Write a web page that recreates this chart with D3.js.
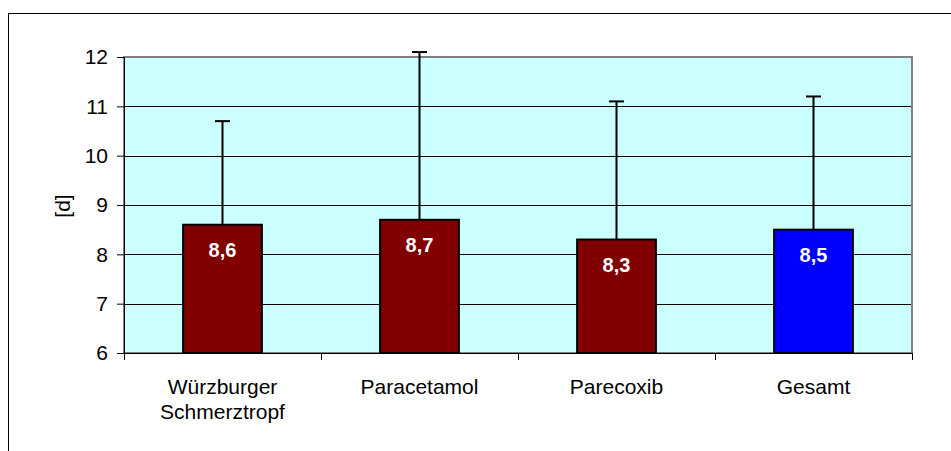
<!DOCTYPE html>
<html><head><meta charset="utf-8">
<script src="https://cdn.jsdelivr.net/npm/d3@7"></script>
<style>body{margin:0;background:#fff}svg{display:block}</style>
</head><body>
<svg id="c" width="951" height="451"></svg>
<script>
const categories = [["Würzburger","Schmerztropf"],["Paracetamol"],["Parecoxib"],["Gesamt"]];
const values = [8.6, 8.7, 8.3, 8.5];
const labels = ["8,6","8,7","8,3","8,5"];
const errTop = [10.7, 12.1, 11.1, 11.2];
const colors = ["#800000","#800000","#800000","#0000FF"];
const yTicks = [6,7,8,9,10,11,12];

const svg = d3.select("#c");
const font = "Arial, 'Liberation Sans', sans-serif";
const L=124, R=912, T=57, B=353;

// outer frame (only top/left visible)
svg.append("rect").attr("x",8.5).attr("y",13.5).attr("width",1000).attr("height",1000)
  .attr("fill","none").attr("stroke","#000").attr("stroke-width",1);

const x = d3.scaleBand().domain(d3.range(categories.length)).range([L,R]).paddingInner(0).paddingOuter(0);
const y = d3.scaleLinear().domain([6,12]).range([B,T]);

svg.append("rect").attr("x",L).attr("y",T).attr("width",R-L).attr("height",B-T).attr("fill","#CCFFFF");

// gridlines
svg.append("g").selectAll("line").data(yTicks.slice(1,-1)).join("line")
  .attr("x1",L).attr("x2",R).attr("y1",d=>Math.round(y(d))+0.5).attr("y2",d=>Math.round(y(d))+0.5)
  .attr("stroke","#000").attr("stroke-width",1);

// plot border
svg.append("rect").attr("x",L).attr("y",T).attr("width",R-L).attr("height",B-T)
  .attr("fill","none").attr("stroke","#808080").attr("stroke-width",2);

// y axis
const ya = svg.append("g").attr("transform",`translate(${L},0)`)
  .call(d3.axisLeft(y).tickValues(yTicks).tickSize(7).tickPadding(9).tickFormat(d3.format("d")));
ya.select(".domain").attr("stroke","#000");
ya.selectAll(".tick line").attr("stroke","#000");
ya.selectAll("text").attr("font-family",font).attr("font-size",21).attr("fill","#000");

// x axis
const xa = svg.append("g").attr("transform",`translate(0,${B})`)
  .call(d3.axisBottom(d3.scaleLinear().domain([0,4]).range([L,R])).tickValues([0,1,2,3,4]).tickSize(7).tickFormat(""));
xa.select(".domain").attr("stroke","#000");
xa.selectAll(".tick line").attr("stroke","#000");

// bars
const bw = x.bandwidth()*0.40;
svg.append("g").selectAll("rect").data(values).join("rect")
  .attr("x",(d,i)=>x(i)+x.bandwidth()/2-bw/2).attr("width",bw)
  .attr("y",d=>y(d)).attr("height",d=>B-y(d))
  .attr("fill",(d,i)=>colors[i]).attr("stroke","#000").attr("stroke-width",2);

// error bars
const eg = svg.append("g");
errTop.forEach((e,i)=>{
  const cx = x(i)+x.bandwidth()/2;
  eg.append("line").attr("x1",cx).attr("x2",cx).attr("y1",y(values[i])).attr("y2",y(e))
    .attr("stroke","#000").attr("stroke-width",2);
  eg.append("line").attr("x1",cx-7.5).attr("x2",cx+7.5).attr("y1",y(e)).attr("y2",y(e))
    .attr("stroke","#000").attr("stroke-width",2);
});

// value labels
svg.append("g").selectAll("text").data(values).join("text")
  .attr("x",(d,i)=>x(i)+x.bandwidth()/2).attr("y",d=>y(d)+32)
  .attr("text-anchor","middle").attr("font-family",font).attr("font-size",20).attr("font-weight","bold")
  .attr("fill","#fff").text((d,i)=>labels[i]);

// category labels
categories.forEach((c,i)=>{
  const t = svg.append("text").attr("x",x(i)+x.bandwidth()/2).attr("y",394)
    .attr("text-anchor","middle").attr("font-family",font).attr("font-size",21).attr("fill","#000");
  c.forEach((line,j)=>t.append("tspan").attr("x",x(i)+x.bandwidth()/2).attr("dy",j?25:0).text(line));
});

// y title
svg.append("text").attr("transform","translate(70,206) rotate(-90)").attr("text-anchor","middle")
  .attr("font-family",font).attr("font-size",21).attr("fill","#000").text("[d]");
</script>
</body></html>
